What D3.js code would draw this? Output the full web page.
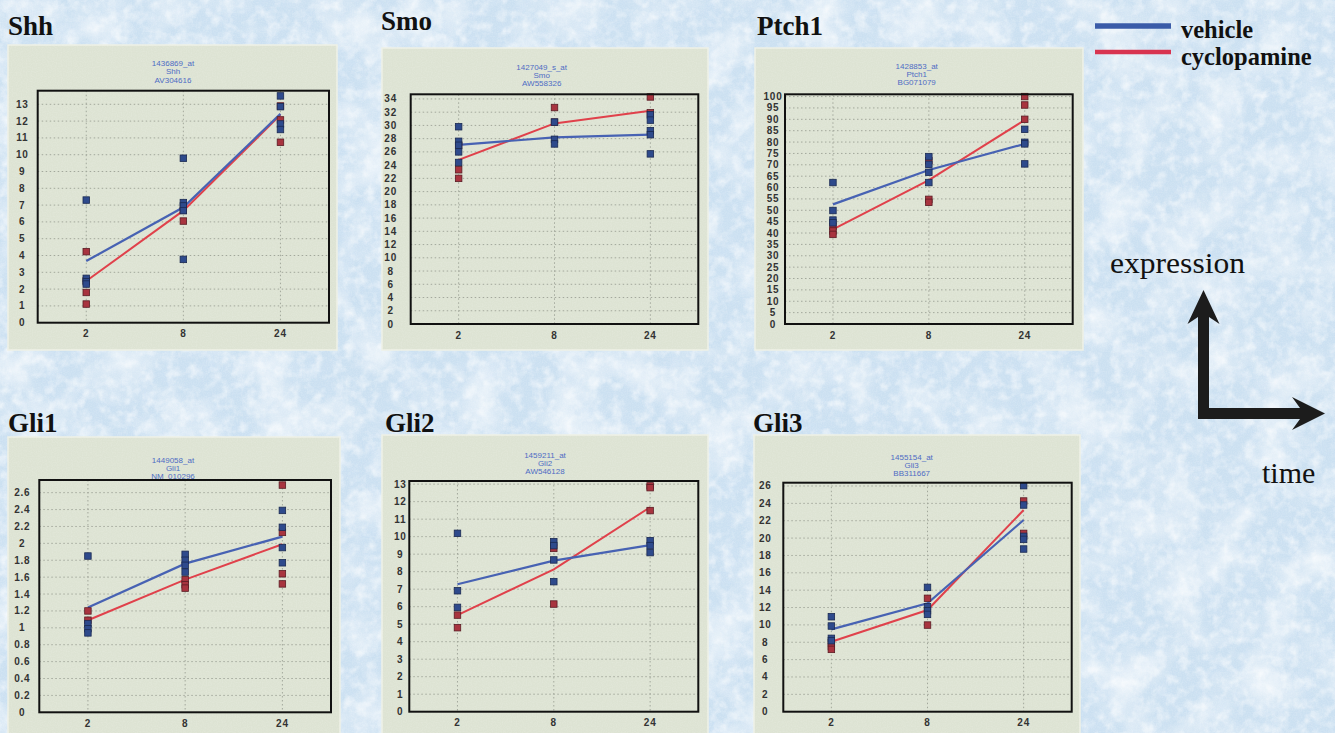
<!doctype html>
<meta charset="utf-8">
<style>
  body { margin: 0; background: #cfe3f2; }
  svg { display: block; }
</style>
<body>
<script src="https://cdn.jsdelivr.net/npm/d3@7/dist/d3.min.js"></script>
<script>
// time points (hours) and probe headers
var times = ["2", "8", "24"];
var genes = ["Shh", "Smo", "Ptch1", "Gli1", "Gli2", "Gli3"];
var probeIds = ["1436869_at", "1427049_s_at", "1428853_at", "1449058_at", "1459211_at", "1455154_at"];
var accessions = ["AV304616", "AW558326", "BG071079", "NM_010296", "AW546128", "BB311667"];

// replicate values, one list per time point
var shhVehicle = [[7.3, 2.64, 2.44, 2.3], [9.79, 7.15, 6.95, 6.67, 3.77], [13.5, 12.86, 11.83, 11.5]];
var shhCyclo   = [[4.23, 2.5, 1.8, 1.11], [6.7, 6.05], [12.9, 12.07, 10.74]];
var smoVehicle = [[29.8, 27.6, 27.0, 26.0, 24.4], [30.5, 27.9, 27.2], [31.6, 30.8, 29.2, 28.6, 25.7]];
var smoCyclo   = [[27.0, 23.3, 22.0], [32.7, 30.5], [34.3, 31.9]];
var ptchVehicle = [[62.2, 49.9, 45.7, 44.5], [73.6, 70.2, 66.7, 62.2], [85.6, 79.9, 79.2, 70.4]];
var ptchCyclo   = [[42.8, 40.9, 39.4], [71.8, 54.8, 53.5], [100, 96.3, 90.0]];
var gli1Vehicle = [[1.85, 1.05, 0.99, 0.94], [1.87, 1.8, 1.74, 1.66], [2.39, 2.19, 1.95, 1.77]];
var gli1Cyclo   = [[1.2, 1.09], [1.57, 1.51, 1.47], [2.69, 2.13, 1.64, 1.52]];
var gli2Vehicle = [[10.19, 6.91, 5.96], [9.71, 9.49, 8.67, 7.43], [9.77, 9.49, 9.09]];
var gli2Cyclo   = [[5.52, 4.8], [9.33, 6.15], [12.9, 12.8, 11.49]];
var gli3Vehicle = [[10.94, 9.87, 8.45, 8.18], [14.32, 12.1, 11.64, 11.21], [26.04, 23.81, 20.2, 19.85, 18.74]];
var gli3Cyclo   = [[7.95, 7.49, 7.18], [13.06, 9.98], [24.27, 20.54]];

// mean lines
var shhVehicleMean = [3.67, 6.87, 12.43], shhCycloMean = [2.48, 6.67, 12.37];
var smoVehicleMean = [27.05, 28.2, 28.6], smoCycloMean = [24.8, 30.3, 32.2];
var ptchVehicleMean = [52.6, 67.7, 79.2], ptchCycloMean = [41.6, 63.3, 89.7];
var gli1VehicleMean = [1.24, 1.76, 2.08], gli1CycloMean = [1.09, 1.57, 1.99];
var gli2VehicleMean = [7.28, 8.63, 9.52], gli2CycloMean = [5.52, 8.13, 11.68];
var gli3VehicleMean = [9.49, 12.48, 22.08], gli3CycloMean = [8.06, 11.71, 23.23];

// y ticks
var shhTicks = [0, 1, 2, 3, 4, 5, 6, 7, 8, 9, 10, 11, 12, 13];
var smoTicks = [0, 2, 4, 6, 8, 10, 12, 14, 16, 18, 20, 22, 24, 26, 28, 30, 32, 34];
var ptchTicks = [0, 5, 10, 15, 20, 25, 30, 35, 40, 45, 50, 55, 60, 65, 70, 75, 80, 85, 90, 95, 100];
var gli1Ticks = [0, 0.2, 0.4, 0.6, 0.8, 1, 1.2, 1.4, 1.6, 1.8, 2, 2.2, 2.4, 2.6];
var gli2Ticks = [0, 1, 2, 3, 4, 5, 6, 7, 8, 9, 10, 11, 12, 13];
var gli3Ticks = [0, 2, 4, 6, 8, 10, 12, 14, 16, 18, 20, 22, 24, 26];

var seriesNames = ["vehicle", "cyclopamine"];

var vehicleSets = [shhVehicle, smoVehicle, ptchVehicle, gli1Vehicle, gli2Vehicle, gli3Vehicle];
var cycloSets = [shhCyclo, smoCyclo, ptchCyclo, gli1Cyclo, gli2Cyclo, gli3Cyclo];
var vehicleMeans = [shhVehicleMean, smoVehicleMean, ptchVehicleMean, gli1VehicleMean, gli2VehicleMean, gli3VehicleMean];
var cycloMeans = [shhCycloMean, smoCycloMean, ptchCycloMean, gli1CycloMean, gli2CycloMean, gli3CycloMean];
var tickSets = [shhTicks, smoTicks, ptchTicks, gli1Ticks, gli2Ticks, gli3Ticks];

// where each panel sits on the page
var layout = [
  {bg: [8, 45, 337, 350],   frame: [37.7, 90.7, 329, 322.7],    ymax: 13.81, title: [8, 35],    head: [173, 63.3],   off: 15.4},
  {bg: [382, 48, 708, 350], frame: [410.7, 94.3, 698.3, 324],   ymax: 34.7,  title: [381, 30],  head: [541.7, 66.7], off: 20},
  {bg: [755, 48, 1083, 350], frame: [785, 94.3, 1072.7, 324],   ymax: 101,   title: [757, 35],  head: [916.7, 65.7], off: 12},
  {bg: [8, 437, 340, 745],  frame: [39.3, 480, 331, 712.3],     ymax: 2.75,  title: [8, 432],   head: [173, 460],    off: 17},
  {bg: [382, 435, 708, 745], frame: [409.3, 481, 698.3, 711.7], ymax: 13.18, title: [385, 432], head: [545, 455],    off: 9},
  {bg: [754, 435, 1080, 745], frame: [783.3, 482.7, 1071.7, 711.7], ymax: 26.38, title: [753, 432], head: [911.7, 456.7], off: 18}
];

var W = 1335, H = 733;
var blueLine = "#4762b3", redLine = "#e0414b";
var blueDot = "#2e4a8c", redDot = "#a8343f";

var svg = d3.select("body").append("svg").attr("width", W).attr("height", H);

// mottled paper background
var defs = svg.append("defs");
function noise(id, freq, oct, seed, alpha) {
  var f = defs.append("filter").attr("id", id).attr("x", 0).attr("y", 0).attr("width", "100%").attr("height", "100%");
  f.append("feTurbulence").attr("type", "fractalNoise").attr("baseFrequency", freq).attr("numOctaves", oct).attr("seed", seed);
  f.append("feColorMatrix").attr("type", "matrix").attr("values", "0 0 0 0 1  0 0 0 0 1  0 0 0 0 1  " + alpha);
}
noise("clouds", 0.02, 5, 7, "2.0 0 0 0 -0.85");
noise("mottle", 0.09, 3, 11, "0 2.2 0 0 -0.95");
noise("speck", 0.8, 1, 2, "0 0 0 -1.2 0.75");
defs.append("filter").attr("id", "blue").attr("x", 0).attr("y", 0).attr("width", "100%").attr("height", "100%")
  .call(function(f) {
    f.append("feTurbulence").attr("type", "fractalNoise").attr("baseFrequency", 0.05).attr("numOctaves", 4).attr("seed", 4);
    f.append("feColorMatrix").attr("type", "matrix")
      .attr("values", "0 0 0 0 0.62  0 0 0 0 0.76  0 0 0 0 0.9  0 0 2.2 0 -1.05");
  });

svg.append("rect").attr("width", W).attr("height", H).attr("fill", "#cbe0f1");
svg.append("rect").attr("width", W).attr("height", H).attr("filter", "url(#blue)").attr("opacity", 0.8);
svg.append("rect").attr("width", W).attr("height", H).attr("filter", "url(#clouds)").attr("opacity", 0.7);
svg.append("rect").attr("width", W).attr("height", H).attr("filter", "url(#mottle)").attr("opacity", 0.6);
svg.append("rect").attr("width", W).attr("height", H).attr("filter", "url(#speck)").attr("opacity", 0.3);

genes.forEach(function(gene, i) {
  var L = layout[i];
  var g = svg.append("g");

  g.append("rect")
    .attr("x", L.bg[0]).attr("y", L.bg[1])
    .attr("width", L.bg[2] - L.bg[0]).attr("height", L.bg[3] - L.bg[1])
    .attr("fill", "#dde3d3").attr("stroke", "#eef1e6").attr("stroke-width", 1.5);
  g.append("rect")
    .attr("x", L.bg[0]).attr("y", L.bg[1])
    .attr("width", L.bg[2] - L.bg[0]).attr("height", L.bg[3] - L.bg[1])
    .attr("filter", "url(#speck)").attr("opacity", 0.25);

  g.append("text")
    .attr("x", L.title[0]).attr("y", L.title[1])
    .style("font-family", "'Liberation Serif', 'Times New Roman', serif")
    .style("font-weight", "bold").style("font-size", "27px").attr("fill", "#111")
    .text(gene);

  var head = [probeIds[i], gene, accessions[i]];
  g.selectAll("text.head").data(head).enter().append("text")
    .attr("class", "head")
    .attr("x", L.head[0]).attr("y", function(d, k) { return L.head[1] + k * 8.2; })
    .attr("dy", "0.35em").attr("text-anchor", "middle")
    .style("font-family", "'Liberation Sans', Arial, sans-serif").style("font-size", "8px")
    .attr("fill", "#4e6cc4")
    .text(function(d) { return d; });

  var x = d3.scalePoint().domain(times).range([L.frame[0], L.frame[2]]).padding(0.5);
  var y = d3.scaleLinear().domain([0, L.ymax]).range([L.frame[3], L.frame[1]]);

  // grid
  g.selectAll("line.hg").data(tickSets[i].filter(function(t) { return t > 0; })).enter().append("line")
    .attr("x1", L.frame[0]).attr("x2", L.frame[2])
    .attr("y1", function(d) { return y(d); }).attr("y2", function(d) { return y(d); })
    .attr("stroke", "#a3a89c").attr("stroke-width", 1).attr("stroke-dasharray", "1.5,2.5");
  g.selectAll("line.vg").data(times).enter().append("line")
    .attr("x1", function(d) { return x(d); }).attr("x2", function(d) { return x(d); })
    .attr("y1", L.frame[1]).attr("y2", L.frame[3])
    .attr("stroke", "#a3a89c").attr("stroke-width", 1).attr("stroke-dasharray", "1.5,2.5");

  // axes labels
  var fmt = i === 3 ? function(d) { return d === 0 || d === 1 || d === 2 ? String(d) : d.toFixed(1); } : function(d) { return String(d); };
  g.selectAll("text.yl").data(tickSets[i]).enter().append("text")
    .attr("x", L.frame[0] - L.off).attr("y", function(d) { return y(d); })
    .attr("dy", "0.35em").attr("text-anchor", "middle")
    .style("font-family", "'Liberation Sans', Arial, sans-serif").style("font-size", "10px")
    .style("font-weight", "bold").style("letter-spacing", "0.8px")
    .attr("fill", "#333")
    .text(fmt);
  g.selectAll("text.xl").data(times).enter().append("text")
    .attr("x", function(d) { return x(d); }).attr("y", L.frame[3] + 11)
    .attr("dy", "0.35em").attr("text-anchor", "middle")
    .style("font-family", "'Liberation Sans', Arial, sans-serif").style("font-size", "10px")
    .style("font-weight", "bold").style("letter-spacing", "0.8px")
    .attr("fill", "#333")
    .text(function(d) { return d; });

  // mean lines
  var line = d3.line().x(function(d, k) { return x(times[k]); }).y(function(d) { return y(d); });
  g.append("path").datum(cycloMeans[i]).attr("d", line)
    .attr("fill", "none").attr("stroke", redLine).attr("stroke-width", 2);
  g.append("path").datum(vehicleMeans[i]).attr("d", line)
    .attr("fill", "none").attr("stroke", blueLine).attr("stroke-width", 2.2);

  // replicates
  function pts(sets) {
    var out = [];
    sets.forEach(function(vals, k) { vals.forEach(function(v) { out.push({t: times[k], v: v}); }); });
    return out;
  }
  var s = 6.5;
  g.selectAll("rect.c").data(pts(cycloSets[i])).enter().append("rect")
    .attr("x", function(d) { return x(d.t) - s / 2; }).attr("y", function(d) { return y(d.v) - s / 2; })
    .attr("width", s).attr("height", s)
    .attr("fill", redDot).attr("stroke", "#5a1c24").attr("stroke-width", 0.8);
  g.selectAll("rect.v").data(pts(vehicleSets[i])).enter().append("rect")
    .attr("x", function(d) { return x(d.t) - s / 2; }).attr("y", function(d) { return y(d.v) - s / 2; })
    .attr("width", s).attr("height", s)
    .attr("fill", blueDot).attr("stroke", "#1b2a52").attr("stroke-width", 0.8);

  // frame
  g.append("rect")
    .attr("x", L.frame[0]).attr("y", L.frame[1])
    .attr("width", L.frame[2] - L.frame[0]).attr("height", L.frame[3] - L.frame[1])
    .attr("fill", "none").attr("stroke", "#111").attr("stroke-width", 2);
});

// legend
var legend = svg.append("g");
[{c: "#3a5ba8", y: 26, w: 5.5, yt: 37.5}, {c: "#d83450", y: 52, w: 4.5, yt: 64.5}].forEach(function(d, k) {
  legend.append("line").attr("x1", 1095).attr("x2", 1171).attr("y1", d.y).attr("y2", d.y)
    .attr("stroke", d.c).attr("stroke-width", d.w);
  legend.append("text").attr("x", 1181).attr("y", d.yt)
    .style("font-family", "'Liberation Serif', 'Times New Roman', serif")
    .style("font-weight", "bold").style("font-size", "24.5px").attr("fill", "#111")
    .text(seriesNames[k]);
});

// axis hint arrows
svg.append("path")
  .attr("d", "M1203.5,290 L1219.5,324 L1209,317 L1209,408 L1300,408 L1292,397 L1325,413.5 L1292,430 L1300,419 L1198,419 L1198,317 L1187.5,324 Z")
  .attr("fill", "#1c1c1c");
svg.append("text").attr("x", 1110).attr("y", 273)
  .style("font-family", "'Liberation Serif', 'Times New Roman', serif").style("font-size", "30px")
  .attr("textLength", 135).attr("lengthAdjust", "spacingAndGlyphs").attr("fill", "#111")
  .text("expression");
svg.append("text").attr("x", 1262).attr("y", 483)
  .style("font-family", "'Liberation Serif', 'Times New Roman', serif").style("font-size", "30px")
  .attr("fill", "#111")
  .text("time");
</script>
</body>
